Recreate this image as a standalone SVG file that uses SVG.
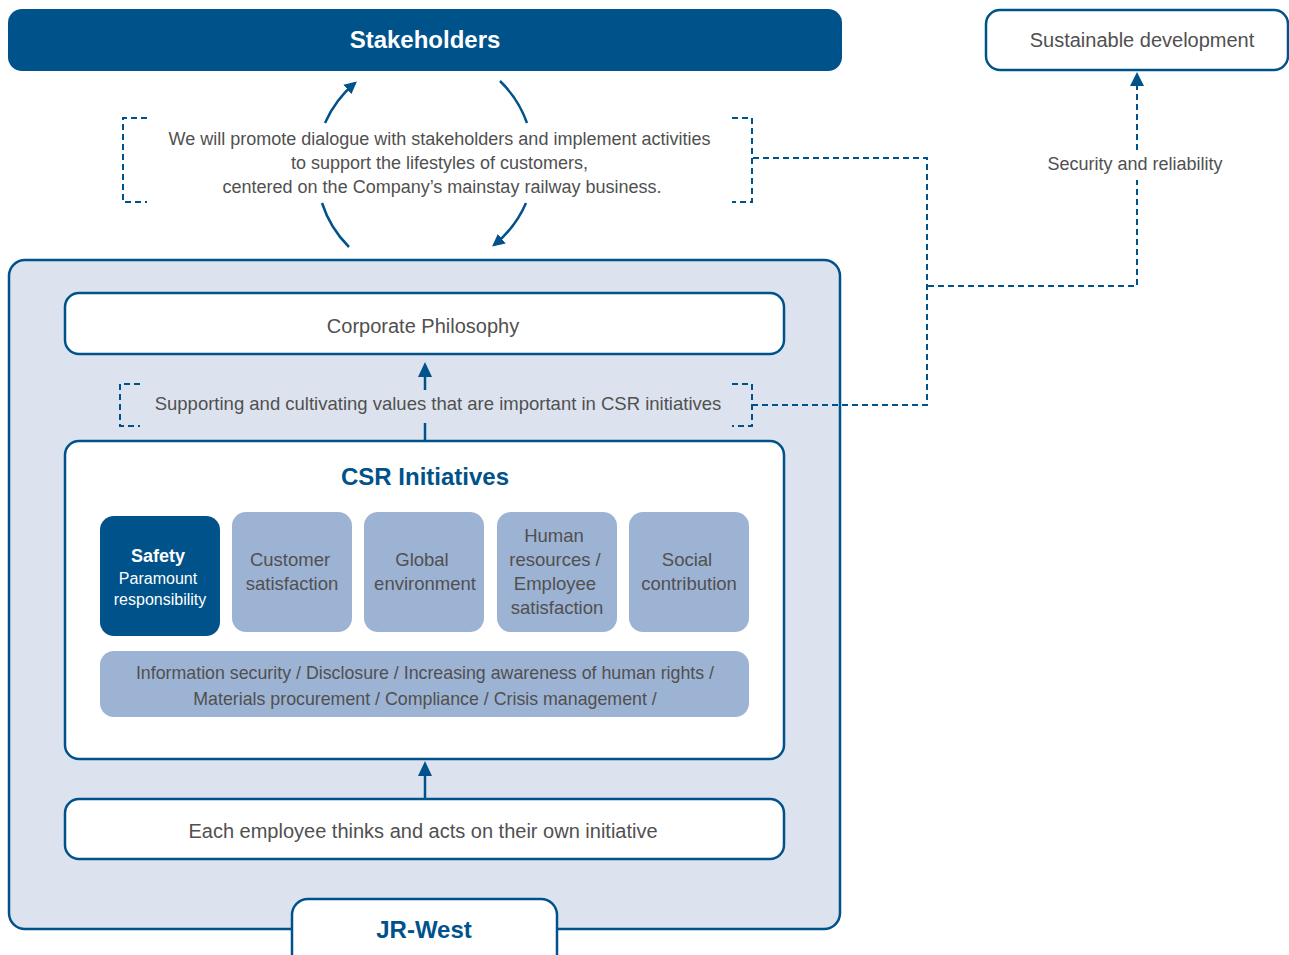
<svg xmlns="http://www.w3.org/2000/svg" width="1289" height="955" viewBox="0 0 1289 955">
<style>
.t{font-family:"Liberation Sans",Arial,sans-serif;fill:#505050;text-anchor:middle}
.b{font-family:"Liberation Sans",Arial,sans-serif;font-weight:bold;text-anchor:middle}
.w{font-family:"Liberation Sans",Arial,sans-serif;fill:#fff;text-anchor:middle}
.box{fill:#fff;stroke:#00528A;stroke-width:2.5}
.lt{fill:#9DB3D3}
.dash{fill:none;stroke:#00528A;stroke-width:2;stroke-dasharray:6 4}
.ln{fill:none;stroke:#00528A;stroke-width:2.5}
</style>
<defs>
<marker id="ah" viewBox="0 0 10 10" refX="8" refY="5" markerWidth="5" markerHeight="5" orient="auto" markerUnits="strokeWidth">
<path d="M0,0 L10,5 L0,10 z" fill="#00528A"/>
</marker>
</defs>
<rect width="1289" height="955" fill="#fff"/>

<g id="jrwest">
<rect x="9" y="260" width="831" height="669" rx="16" fill="#DCE3EF" stroke="#00528A" stroke-width="2.5"/>
</g>

<g id="stakeholders">
<rect x="8" y="9" width="834" height="62" rx="14" fill="#00528A"/>
<text class="b" x="425" y="48" font-size="24" fill="#fff">Stakeholders</text>
</g>

<g id="sustainable">
<rect class="box" x="986" y="10" width="302" height="60" rx="14"/>
<text class="t" x="1142" y="47" font-size="20">Sustainable development</text>
</g>

<g id="dialogue">
<text class="t" font-size="18">
<tspan x="442" y="145">We will promote dialogue with stakeholders and implement activities</tspan>
<tspan x="442" y="169">to support the lifestyles of customers,</tspan>
<tspan x="442" y="193">centered on the Company’s mainstay railway business.</tspan>
</text>
</g>

<g id="corporate">
<rect class="box" x="65" y="293" width="719" height="61" rx="14"/>
<text class="t" x="423" y="333" font-size="20">Corporate Philosophy</text>
</g>

<g id="supporting">
<text class="t" x="438" y="410" font-size="18.5">Supporting and cultivating values that are important in CSR initiatives</text>
</g>

<g id="csr">
<rect class="box" x="65" y="441" width="719" height="318" rx="14"/>
<text class="b" x="425" y="485" font-size="24" fill="#00528A">CSR Initiatives</text>
</g>

<g id="safety">
<rect x="100" y="516" width="120" height="120" rx="14" fill="#00528A"/>
<text class="b" x="158" y="562" font-size="18" fill="#fff">Safety</text>
<text class="w" x="158" y="584" font-size="16">Paramount</text>
<text class="w" x="160" y="605" font-size="16">responsibility</text>
</g>

<g id="customer">
<rect class="lt" x="232" y="512" width="120" height="120" rx="14"/>
<text class="t" font-size="18.5"><tspan x="290" y="566">Customer</tspan><tspan x="292" y="590">satisfaction</tspan></text>
</g>

<g id="global">
<rect class="lt" x="364" y="512" width="120" height="120" rx="14"/>
<text class="t" font-size="18.5"><tspan x="422" y="566">Global</tspan><tspan x="425" y="590">environment</tspan></text>
</g>

<g id="human">
<rect class="lt" x="497" y="512" width="120" height="120" rx="14"/>
<text class="t" font-size="18.5"><tspan x="554" y="542">Human</tspan><tspan x="555" y="566">resources /</tspan><tspan x="555" y="590">Employee</tspan><tspan x="557" y="614">satisfaction</tspan></text>
</g>

<g id="social">
<rect class="lt" x="629" y="512" width="120" height="120" rx="14"/>
<text class="t" font-size="18.5"><tspan x="687" y="566">Social</tspan><tspan x="689" y="590">contribution</tspan></text>
</g>

<g id="other">
<rect class="lt" x="100" y="651" width="649" height="66" rx="14"/>
<text class="t" font-size="17.8"><tspan x="425" y="679">Information security / Disclosure / Increasing awareness of human rights /</tspan><tspan x="425" y="705">Materials procurement / Compliance / Crisis management /</tspan></text>
</g>

<g id="employee">
<rect class="box" x="65" y="799" width="719" height="60" rx="14"/>
<text class="t" x="423" y="838" font-size="20">Each employee thinks and acts on their own initiative</text>
</g>

<g id="jrtab">
<rect class="box" x="292" y="899" width="265" height="80" rx="16"/>
<text class="b" x="424" y="938" font-size="24" fill="#00528A">JR-West</text>
</g>

<g id="security">
<text class="t" x="1135" y="170" font-size="18">Security and reliability</text>
</g>

<g id="connectors">
<path class="ln" d="M325,123 A110,110 0 0 1 355,83" marker-end="url(#ah)"/>
<path class="ln" d="M349,247 A110,110 0 0 1 322,203"/>
<path class="ln" d="M500,81 A110,110 0 0 1 527,123"/>
<path class="ln" d="M526,203 A110,110 0 0 1 494,245" marker-end="url(#ah)"/>
<path class="dash" d="M147,118 H123 V202 H147"/>
<path class="dash" d="M732,118 H752 V202 H732"/>
<path class="dash" d="M140,384 H120 V426 H140"/>
<path class="dash" d="M732,384 H752 V426 H732"/>
<path class="dash" d="M753,158 H927 V405 H753"/>
<path class="dash" d="M928,286 H1137 V180"/>
<path class="dash" d="M1137,150 V86"/>
<path d="M1137,72 L1130,86 L1144,86 z" fill="#00528A"/>
<line class="ln" x1="425" y1="441" x2="425" y2="423"/>
<line class="ln" x1="425" y1="390" x2="425" y2="375"/>
<path d="M425,362 L418,377 L432,377 z" fill="#00528A"/>
<line class="ln" x1="425" y1="799" x2="425" y2="774"/>
<path d="M425,761 L418,776 L432,776 z" fill="#00528A"/>
</g>
</svg>
